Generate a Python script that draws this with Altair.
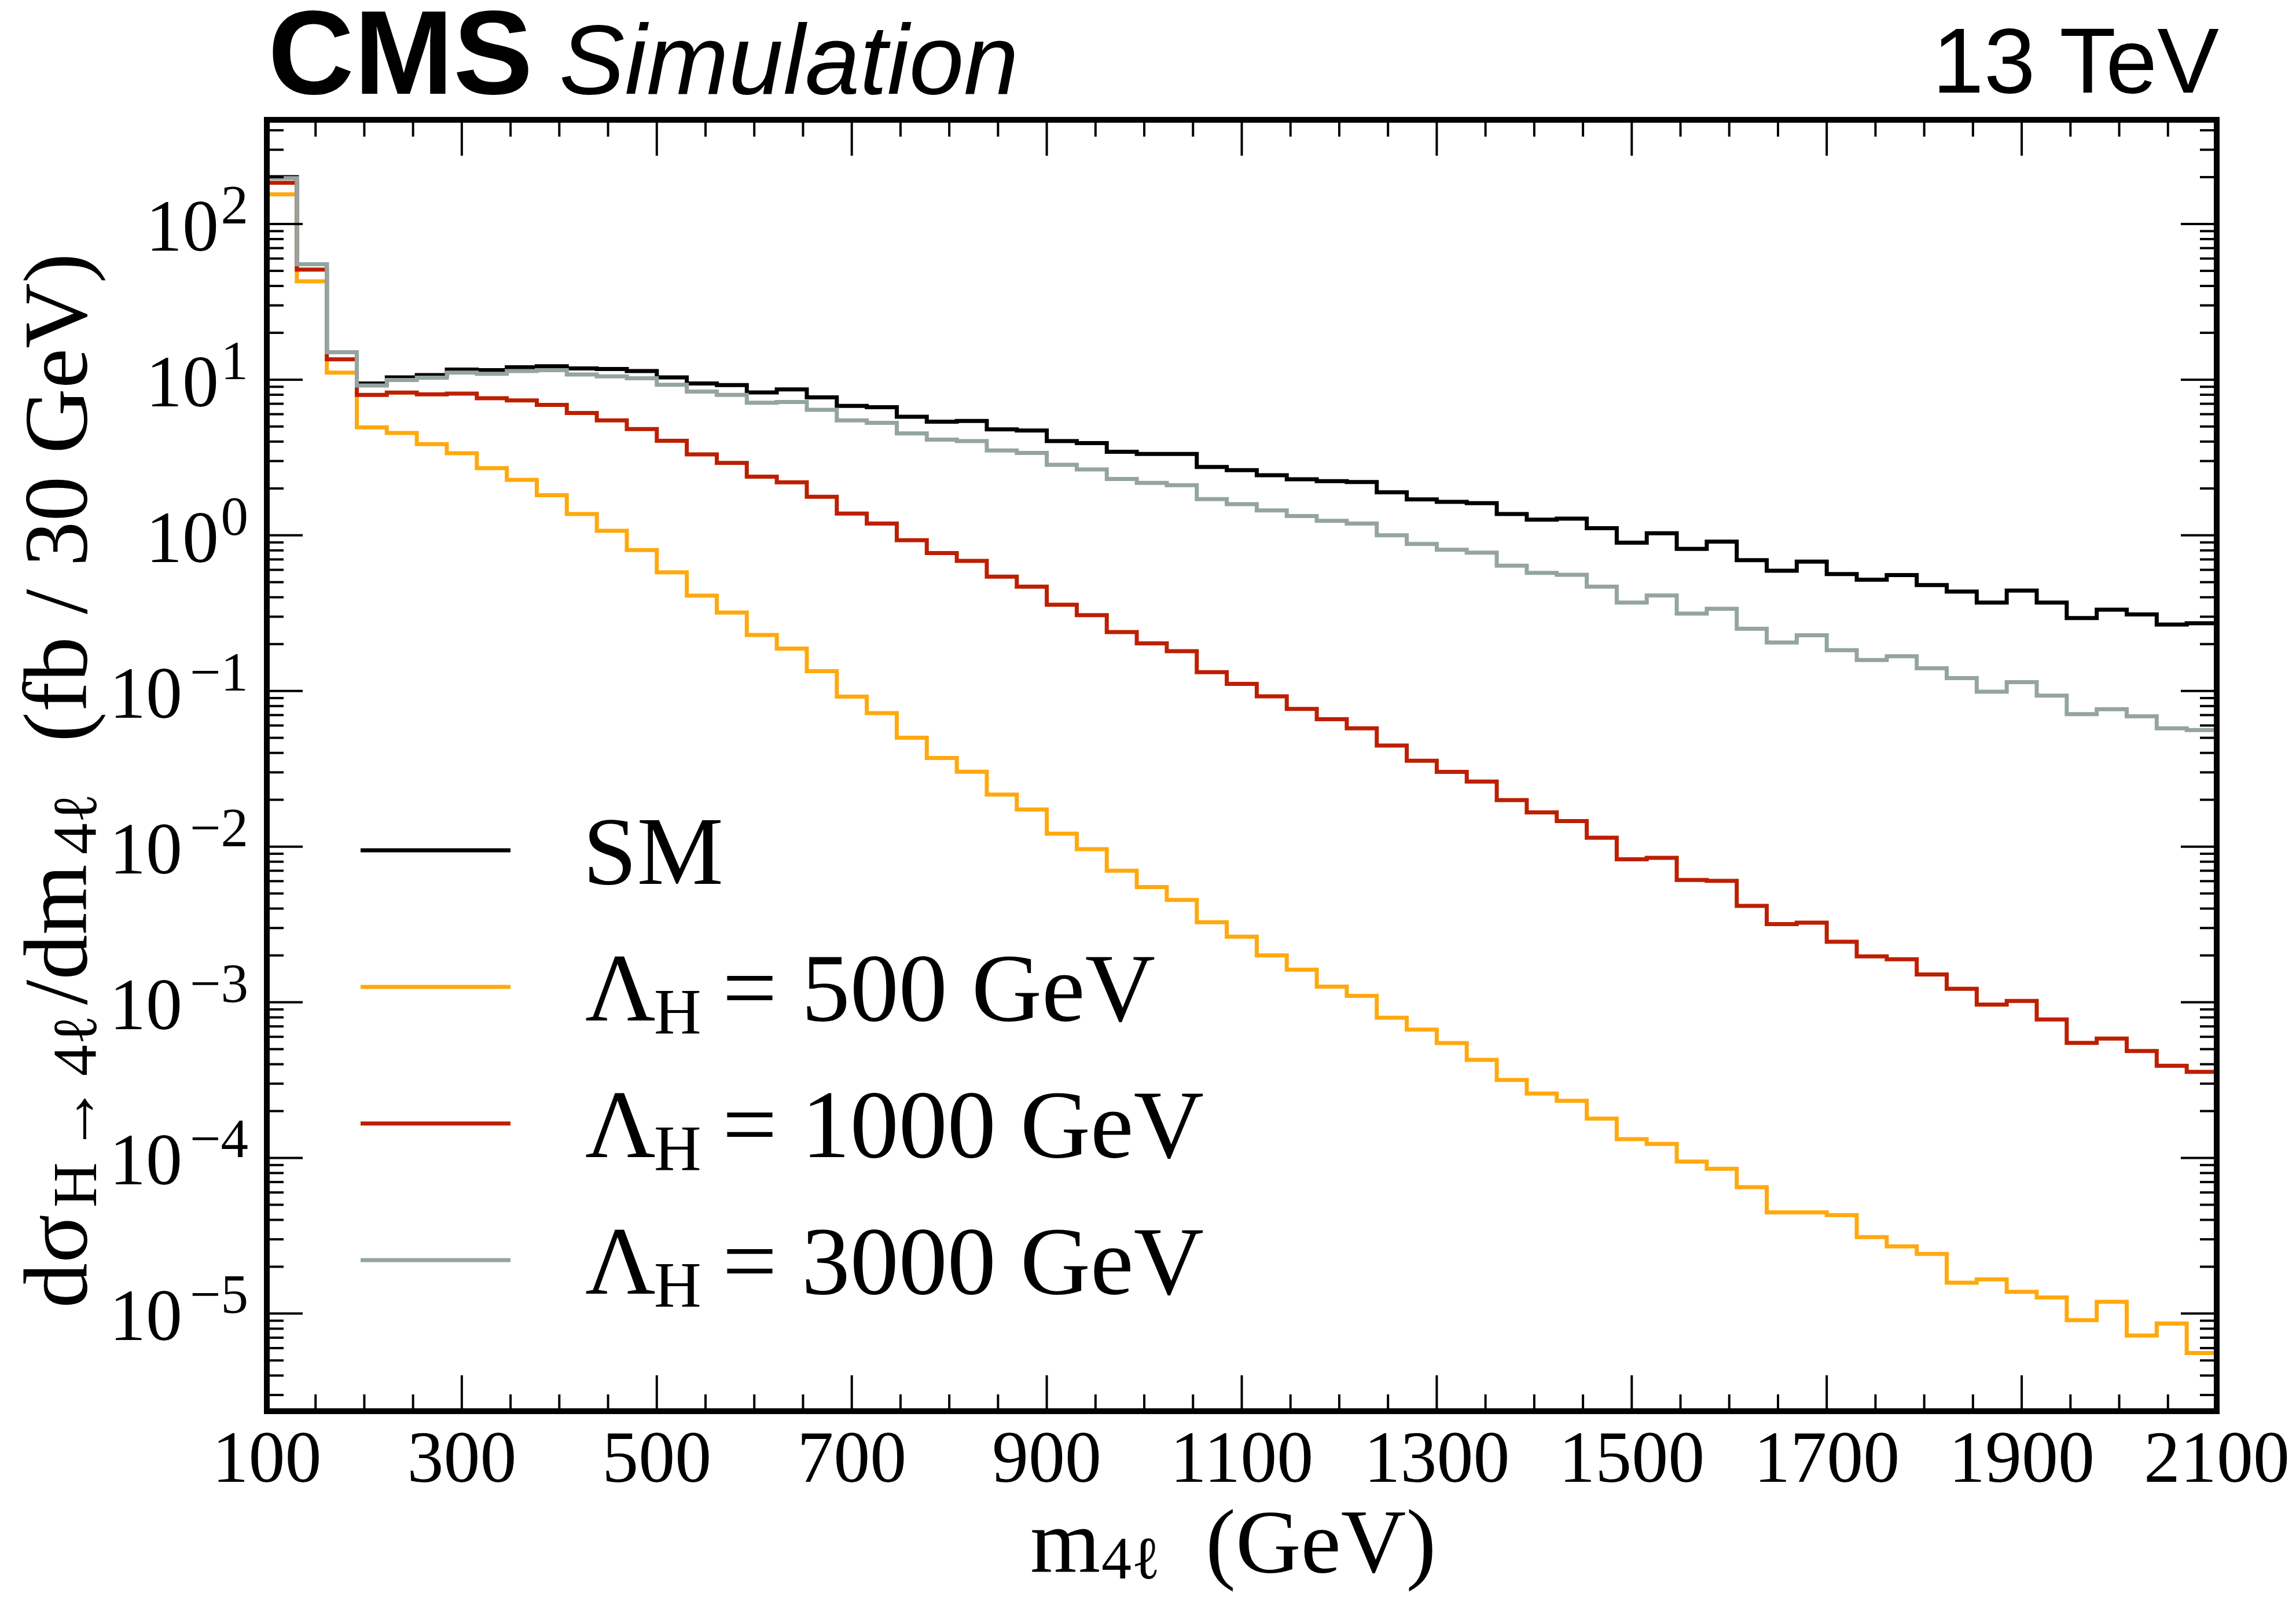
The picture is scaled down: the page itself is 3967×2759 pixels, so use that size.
import altair as alt
import numpy as np
import pandas as pd

# ---------------- data ----------------
M_LOW, M_HIGH, N_BINS = 100, 2100, 65   # histogram binning of m4l (GeV)

sm = [200, 55.2, 15.0, 9.46, 10.35, 10.7, 11.6, 11.5, 12.0, 12.2,
      11.8, 11.7, 11.35, 10.35, 9.46, 9.23, 8.28, 8.65, 7.69, 6.78,
      6.65, 5.77, 5.37, 5.43, 4.79, 4.71, 4.03, 3.91, 3.44, 3.33,
      3.33, 2.75, 2.62, 2.43, 2.29, 2.23, 2.20, 1.89, 1.70, 1.64,
      1.61, 1.37, 1.26, 1.28, 1.11, 0.897, 1.03, 0.818, 0.910, 0.692,
      0.592, 0.678, 0.564, 0.519, 0.555, 0.479, 0.435, 0.370, 0.442, 0.370,
      0.294, 0.333, 0.310, 0.267, 0.272]

lam500 = [155, 42.8, 11.1, 4.94, 4.54, 3.85, 3.37, 2.70, 2.27, 1.81,
          1.37, 1.07, 0.805, 0.578, 0.410, 0.319, 0.229, 0.187, 0.134, 0.0920,
          0.0721, 0.0501, 0.0371, 0.0303, 0.0216, 0.0173, 0.0121, 0.00964, 0.00700, 0.00550,
          0.00454, 0.00327, 0.00264, 0.00200, 0.00162, 0.00126, 0.00110, 0.000796, 0.000667, 0.000547,
          0.000427, 0.000317, 0.000259, 0.000233, 0.000179, 0.000132, 0.000123, 0.0000948, 0.0000851, 0.0000649,
          0.0000447, 0.0000447, 0.0000429, 0.0000310, 0.0000270, 0.0000242, 0.0000158, 0.0000166, 0.0000138, 0.0000127,
          0.00000908, 0.0000119, 0.00000723, 0.00000863, 0.00000558]

lam1000 = [184, 50.9, 13.5, 7.98, 8.26, 8.05, 8.13, 7.59, 7.36, 6.89,
           6.11, 5.47, 4.82, 4.05, 3.31, 2.92, 2.38, 2.19, 1.77, 1.38,
           1.19, 0.931, 0.769, 0.685, 0.543, 0.468, 0.358, 0.307, 0.239, 0.202,
           0.180, 0.132, 0.111, 0.0923, 0.0766, 0.0659, 0.0575, 0.0446, 0.0356, 0.0302,
           0.0262, 0.0199, 0.0166, 0.0146, 0.0114, 0.00830, 0.00847, 0.00611, 0.00603, 0.00416,
           0.00318, 0.00325, 0.00245, 0.00197, 0.00189, 0.00151, 0.00122, 0.000966, 0.00102, 0.000776,
           0.000548, 0.000585, 0.000486, 0.000391, 0.000357]

lam3000 = [197, 55.2, 15.0, 9.18, 9.95, 10.3, 11.1, 10.9, 11.35, 11.5,
           10.8, 10.5, 10.2, 9.27, 8.39, 7.98, 7.11, 7.18, 6.40, 5.47,
           5.28, 4.52, 4.12, 4.03, 3.51, 3.38, 2.84, 2.65, 2.30, 2.17,
           2.10, 1.71, 1.585, 1.445, 1.33, 1.24, 1.19, 1.00, 0.879, 0.807,
           0.774, 0.638, 0.574, 0.558, 0.468, 0.370, 0.411, 0.314, 0.337, 0.251,
           0.205, 0.228, 0.183, 0.158, 0.167, 0.140, 0.121, 0.0989, 0.114, 0.0933,
           0.0710, 0.0764, 0.0687, 0.0575, 0.0561]

series_names = ["SM", "500", "1000", "3000"]
series_values = [sm, lam500, lam1000, lam3000]
series_colors = ["#000000", "#ffa90e", "#bd1f01", "#94a4a2"]

x_tick_labels = [100, 300, 500, 700, 900, 1100, 1300, 1500, 1700, 1900, 2100]
y_decades = [-5, -4, -3, -2, -1, 0, 1, 2]

# ---------------- layout ----------------
W, H = 3369, 2231
Y_DOMAIN = [2.36e-6, 467]
SERIF = "Liberation Serif"
SANS = "Liberation Sans"

xs = alt.Scale(domain=[M_LOW, M_HIGH], nice=False, zero=False)
ys = alt.Scale(type="log", domain=Y_DOMAIN, nice=False)

edges = np.linspace(M_LOW, M_HIGH, N_BINS + 1)

layers = []

# histogram step lines
for name, vals, col in zip(series_names, series_values, series_colors):
    df = pd.DataFrame({"m": edges, "v": list(vals) + [vals[-1]], "series": name})
    layers.append(
        alt.Chart(df).mark_line(interpolate="step-after", color=col, strokeWidth=7,
                                strokeJoin="miter", strokeCap="butt")
        .encode(x=alt.X("m:Q", scale=xs, axis=None),
                y=alt.Y("v:Q", scale=ys, axis=None))
    )

# ticks (inward, on all four sides)
x_major = list(range(M_LOW, M_HIGH + 1, 200))
x_minor = [v for v in range(M_LOW + 50, M_HIGH, 50) if (v - M_LOW) % 200 != 0]
y_major = [10.0 ** d for d in range(-5, 3)]
y_minor = [k * 10.0 ** d for d in range(-6, 3) for k in range(2, 10)
           if Y_DOMAIN[0] <= k * 10.0 ** d <= Y_DOMAIN[1]]

TICK_W = 4

def xticks(vals, length):
    d = pd.DataFrame({"t": vals})
    out = []
    for y0, y1 in [(H, H - length), (0, length)]:
        out.append(alt.Chart(d).mark_rule(color="black", strokeWidth=TICK_W)
                   .encode(x=alt.X("t:Q", scale=xs, axis=None),
                           y=alt.value(y0), y2=alt.value(y1)))
    return out

def yticks(vals, length):
    d = pd.DataFrame({"t": vals})
    out = []
    for x0, x1 in [(0, length), (W, W - length)]:
        out.append(alt.Chart(d).mark_rule(color="black", strokeWidth=TICK_W)
                   .encode(y=alt.Y("t:Q", scale=ys, axis=None),
                           x=alt.value(x0), x2=alt.value(x1)))
    return out

layers += xticks(x_major, 62) + xticks(x_minor, 29)
layers += yticks(y_major, 62) + yticks(y_minor, 29)

# frame around the plot area (drawn as rules on the scales' extent)
frame = pd.DataFrame({"x0": [M_LOW], "x1": [M_HIGH], "y0": [Y_DOMAIN[0]], "y1": [Y_DOMAIN[1]]})
FR = 10
layers += [
    alt.Chart(frame).mark_rule(color="black", strokeWidth=FR, strokeCap="square")
    .encode(x=alt.X("x0:Q", scale=xs, axis=None), x2="x1:Q", y=alt.value(0)),
    alt.Chart(frame).mark_rule(color="black", strokeWidth=FR, strokeCap="square")
    .encode(x=alt.X("x0:Q", scale=xs, axis=None), x2="x1:Q", y=alt.value(H)),
    alt.Chart(frame).mark_rule(color="black", strokeWidth=FR, strokeCap="square")
    .encode(y=alt.Y("y0:Q", scale=ys, axis=None), y2="y1:Q", x=alt.value(0)),
    alt.Chart(frame).mark_rule(color="black", strokeWidth=FR, strokeCap="square")
    .encode(y=alt.Y("y0:Q", scale=ys, axis=None), y2="y1:Q", x=alt.value(W)),
]

# x tick labels
xl = pd.DataFrame({"t": x_tick_labels, "lab": [str(v) for v in x_tick_labels]})
layers.append(
    alt.Chart(xl).mark_text(font=SERIF, fontSize=126, align="center", baseline="alphabetic", color="black")
    .encode(x=alt.X("t:Q", scale=xs, axis=None), y=alt.value(H + 122), text="lab:N")
)

# y tick labels: "10" + superscript exponent
def exp_str(d):
    return ("\u2212" + str(-d)) if d < 0 else str(d)

yl = pd.DataFrame({"t": [10.0 ** d for d in y_decades],
                   "d": y_decades,
                   "e": [exp_str(d) for d in y_decades]})
yl_pos = yl[yl.d >= 0]
yl_neg = yl[yl.d < 0]
for sub, xpos in [(yl_pos, -83), (yl_neg, -146)]:
    layers.append(
        alt.Chart(sub).mark_text(font=SERIF, fontSize=126, align="right", baseline="alphabetic",
                                 dy=46, text="10", color="black")
        .encode(y=alt.Y("t:Q", scale=ys, axis=None), x=alt.value(xpos))
    )
layers.append(
    alt.Chart(yl).mark_text(font=SERIF, fontSize=95, align="right", baseline="alphabetic",
                            dy=-1, color="black")
    .encode(y=alt.Y("t:Q", scale=ys, axis=None), x=alt.value(-32), text="e:N")
)

# generic free text helper
_one = pd.DataFrame({"k": [0]})

def txt(s, x, y, size, font=SERIF, angle=0, weight="normal", style="normal", align="left"):
    kw = dict(text=s, font=font, fontSize=size, fontWeight=weight, fontStyle=style,
              align=align, baseline="alphabetic", color="black")
    if angle:
        kw["angle"] = angle
    return alt.Chart(_one).mark_text(**kw).encode(x=alt.value(x), y=alt.value(y))

MAIN = 168

# x-axis title: m_{4l} (GeV)
layers += [
    txt("m", 1319, 2509, 156),
    txt("4\u2113", 1442, 2520, 104),
    txt("(GeV)", 1622, 2509, 156),
]

# y-axis title: dσ_{H→4l}/dm_{4l} (fb / 30 GeV), rotated
YT_MAIN, YT_SUB = 156, 108
YB_MAIN, YB_SUB = -312, -295
layers += [
    txt("d\u03c3", YB_MAIN, 2053, YT_MAIN, angle=270),
    txt("H", YB_SUB, 1879, YT_SUB, angle=270),
    txt("\u2192", YB_SUB, 1785, 118, angle=270),
    txt("4\u2113", YB_SUB, 1652, YT_SUB, angle=270),
    txt("/dm", YB_MAIN, 1529, YT_MAIN, angle=270),
    txt("4\u2113", YB_SUB, 1269, YT_SUB, angle=270),
    txt("(fb / 30 GeV)", YB_MAIN, 1075, YT_MAIN, angle=270),
]

# header texts
layers += [
    txt("CMS", 2, -45, 206, font=SANS, weight="bold"),
    txt("Simulation", 505, -45, 170, font=SANS, style="italic"),
    txt("13 TeV", W + 4, -47, 160, font=SANS, align="right"),
]

# legend
LEG_Y0, LEG_DY = 1262, 236
for i, (name, col) in enumerate(zip(series_names, series_colors)):
    ly = LEG_Y0 + i * LEG_DY
    layers.append(
        alt.Chart(_one).mark_rule(color=col, strokeWidth=7)
        .encode(x=alt.value(162), x2=alt.value(421), y=alt.value(ly))
    )
    if name == "SM":
        layers.append(txt("SM", 546, ly + 58, MAIN))
    else:
        layers += [
            txt("\u039b", 550, ly + 58, MAIN),
            txt("H", 669, ly + 80, 113),
            txt("= " + name + " GeV", 787, ly + 58, MAIN),
        ]

chart = (
    alt.layer(*layers)
    .properties(width=W, height=H, background="white",
                autosize=alt.AutoSizeParams(type="none"),
                padding={"left": 453, "top": 199, "right": 129, "bottom": 313})
    .configure_view(stroke=None, strokeWidth=0)
)

chart.save("out.html", embed_options={"renderer": "svg", "actions": False})
